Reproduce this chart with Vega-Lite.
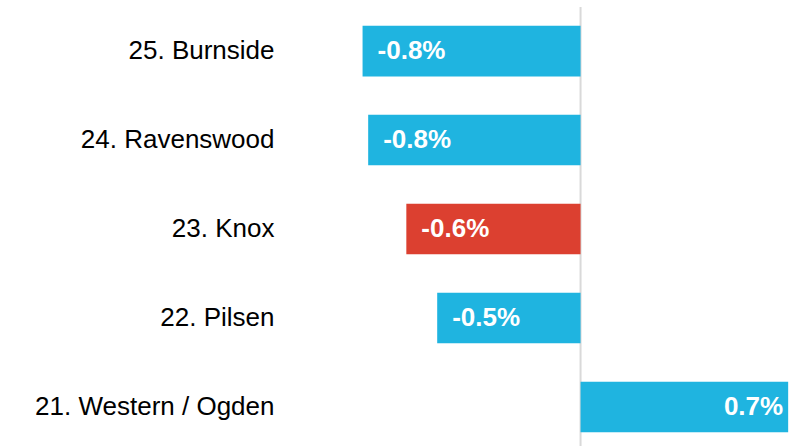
{
  "$schema": "https://vega.github.io/schema/vega-lite/v6.json",
  "width": 505,
  "height": 444,
  "autosize": {"type": "none"},
  "padding": {"left": 300, "top": 7, "right": 3, "bottom": 0},
  "background": "white",
  "config": {
    "view": {"stroke": null},
    "font": "Liberation Sans",
    "locale": {"number": {"decimal": ".", "thousands": ",", "grouping": [3], "currency": ["$", ""], "minus": "-"}}
  },
  "layer": [
    {
      "data": {"values": [{"z": 0}]},
      "mark": {"type": "rule", "color": "#d9d9d9", "strokeWidth": 2},
      "encoding": {"x": {"field": "z", "type": "quantitative", "scale": {"domain": [-0.01, 0.008], "nice": false}, "axis": null}}
    },
    {
      "data": {
        "values": [
          {"name": "25. Burnside", "value": -0.00777, "highlight": "no"},
          {"name": "24. Ravenswood", "value": -0.00757, "highlight": "no"},
          {"name": "23. Knox", "value": -0.00621, "highlight": "yes"},
          {"name": "22. Pilsen", "value": -0.00511, "highlight": "no"},
          {"name": "21. Western / Ogden", "value": 0.0074, "highlight": "no"}
        ]
      },
      "encoding": {
        "y": {
          "field": "name",
          "type": "nominal",
          "sort": null,
          "scale": {"paddingInner": 0.432, "paddingOuter": 0.212},
          "axis": {
            "title": null,
            "domain": false,
            "ticks": false,
            "labelFontSize": 26,
            "labelColor": "#000000",
            "labelPadding": 26,
            "labelFont": "Liberation Sans",
            "labelLimit": 300
          }
        }
      },
      "layer": [
        {
          "mark": {"type": "bar"},
          "encoding": {
            "x": {"field": "value", "type": "quantitative"},
            "color": {
              "field": "highlight",
              "type": "nominal",
              "scale": {"domain": ["no", "yes"], "range": ["#1fb4e0", "#dc4030"]},
              "legend": null
            }
          }
        },
        {
          "transform": [{"filter": "datum.value < 0"}],
          "mark": {"type": "text", "align": "left", "baseline": "middle", "dx": 15, "fontSize": 26, "fontWeight": "bold", "color": "white", "font": "Liberation Sans"},
          "encoding": {
            "x": {"field": "value", "type": "quantitative"},
            "text": {"field": "value", "type": "quantitative", "format": ".1%"}
          }
        },
        {
          "transform": [{"filter": "datum.value >= 0"}],
          "mark": {"type": "text", "align": "right", "baseline": "middle", "dx": -5, "fontSize": 26, "fontWeight": "bold", "color": "white", "font": "Liberation Sans"},
          "encoding": {
            "x": {"field": "value", "type": "quantitative"},
            "text": {"field": "value", "type": "quantitative", "format": ".1%"}
          }
        }
      ]
    }
  ]
}
